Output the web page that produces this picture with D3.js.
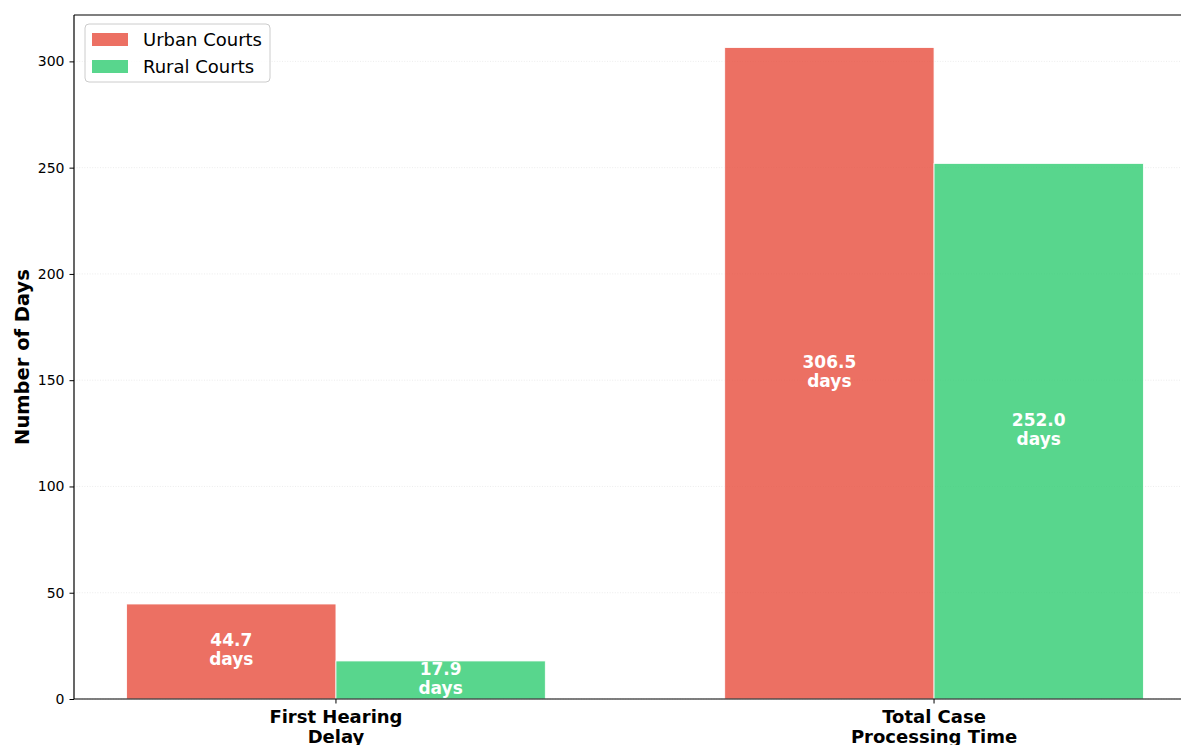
<!DOCTYPE html>
<html>
<head>
<meta charset="utf-8">
<script src="https://cdn.jsdelivr.net/npm/d3@7"></script>
<style>
  html, body { margin: 0; padding: 0; background: #fff; overflow: hidden; }
  #chart { width: 1181px; height: 745px; }
  text { font-family: "DejaVu Sans", sans-serif; }
</style>
</head>
<body>
<div id="chart"></div>
<script>
const CATEGORIES = [["First Hearing", "Delay"], ["Total Case", "Processing Time"]];
const SERIES = ["Urban Courts", "Rural Courts"];
const URBAN = [44.7, 306.5];
const RURAL = [17.9, 252.0];
const Y_TICKS = [0, 50, 100, 150, 200, 250, 300];
const COLORS = ["#e74c3c", "#2ecc71"];

const width = 1181, height = 745;
const margin = { top: 15, left: 74, bottom: 46 };
const plotBottom = height - margin.bottom;

const svg = d3.select("#chart").append("svg")
  .attr("width", width)
  .attr("height", height);

// x in data units: categories at 0 and 1, bars 0.35 wide
const x = d3.scaleLinear().domain([-0.438, 1.438]).range([margin.left, 1196]);
const y = d3.scaleLinear().domain([0, 306.5 * 1.05]).range([plotBottom, margin.top]);
const barW = 0.35;

// Grid
svg.append("g")
  .selectAll("line")
  .data(Y_TICKS)
  .join("line")
  .attr("x1", margin.left).attr("x2", 1196)
  .attr("y1", (d) => y(d)).attr("y2", (d) => y(d))
  .attr("stroke", "#b0b0b0").attr("stroke-opacity", 0.3)
  .attr("stroke-width", 0.8).attr("stroke-dasharray", "1,1.6");

const groups = [URBAN, RURAL];

groups.forEach((vals, si) => {
  const offset = si === 0 ? -barW / 2 : barW / 2;
  svg.append("g")
    .selectAll("rect")
    .data(vals)
    .join("rect")
    .attr("x", (d, i) => x(i + offset - barW / 2))
    .attr("y", (d) => y(d))
    .attr("width", x(barW) - x(0))
    .attr("height", (d) => y(0) - y(d))
    .attr("fill", COLORS[si]).attr("fill-opacity", 0.8)
    .attr("stroke", "#fff").attr("stroke-width", 0.8);

  // value labels
  const lbl = svg.append("g")
    .selectAll("text")
    .data(vals)
    .join("text")
    .attr("x", (d, i) => x(i + offset))
    .attr("y", (d) => y(d / 2))
    .attr("text-anchor", "middle")
    .attr("fill", "#fff").attr("font-size", "17px").attr("font-weight", "bold");
  lbl.append("tspan").attr("x", (d, i) => x(i + offset)).attr("dy", "-0.3em")
    .text((d) => d.toFixed(1));
  lbl.append("tspan").attr("x", (d, i) => x(i + offset)).attr("dy", "1.12em")
    .text("days");
});

// Axes
const yAxis = svg.append("g")
  .attr("transform", `translate(${margin.left},0)`)
  .call(d3.axisLeft(y).tickValues(Y_TICKS).tickSize(4.5).tickPadding(5));
yAxis.select(".domain").remove();
yAxis.selectAll("text").attr("font-size", "14px").attr("fill", "#000")
  .attr("font-family", "DejaVu Sans, sans-serif");
yAxis.selectAll("line").attr("stroke", "#000");

const xTicks = svg.append("g");
CATEGORIES.forEach((lines, i) => {
  xTicks.append("line")
    .attr("x1", x(i)).attr("x2", x(i))
    .attr("y1", plotBottom).attr("y2", plotBottom + 4.5)
    .attr("stroke", "#000");
  const t = xTicks.append("text")
    .attr("text-anchor", "middle")
    .attr("font-size", "18px").attr("font-weight", "bold").attr("fill", "#000");
  lines.forEach((s, j) => {
    t.append("tspan").attr("x", x(i)).attr("y", plotBottom + 24 + j * 20).text(s);
  });
});

// Spines
svg.append("line").attr("x1", margin.left).attr("x2", margin.left)
  .attr("y1", margin.top).attr("y2", plotBottom).attr("stroke", "#000").attr("stroke-width", 1.2);
svg.append("line").attr("x1", margin.left).attr("x2", 1196)
  .attr("y1", plotBottom).attr("y2", plotBottom).attr("stroke", "#000").attr("stroke-width", 1.2);
svg.append("line").attr("x1", margin.left).attr("x2", 1196)
  .attr("y1", margin.top).attr("y2", margin.top).attr("stroke", "#000").attr("stroke-width", 1.2);

// Y label
svg.append("text")
  .attr("transform", `translate(29,${(margin.top + plotBottom) / 2}) rotate(-90)`)
  .attr("text-anchor", "middle")
  .attr("font-size", "19.5px").attr("font-weight", "bold").attr("fill", "#000")
  .text("Number of Days");

// Legend
const legend = svg.append("g").attr("transform", "translate(85,24)");
legend.append("rect")
  .attr("width", 185).attr("height", 58).attr("rx", 4)
  .attr("fill", "#fff").attr("fill-opacity", 0.8)
  .attr("stroke", "#ccc").attr("stroke-width", 1);
SERIES.forEach((s, i) => {
  legend.append("rect")
    .attr("x", 7).attr("y", 9 + i * 27)
    .attr("width", 36).attr("height", 13)
    .attr("fill", COLORS[i]).attr("fill-opacity", 0.8);
  legend.append("text")
    .attr("x", 58).attr("y", 15.5 + i * 27).attr("dy", "0.35em")
    .attr("font-size", "18px").attr("fill", "#000")
    .text(s);
});
</script>
</body>
</html>
